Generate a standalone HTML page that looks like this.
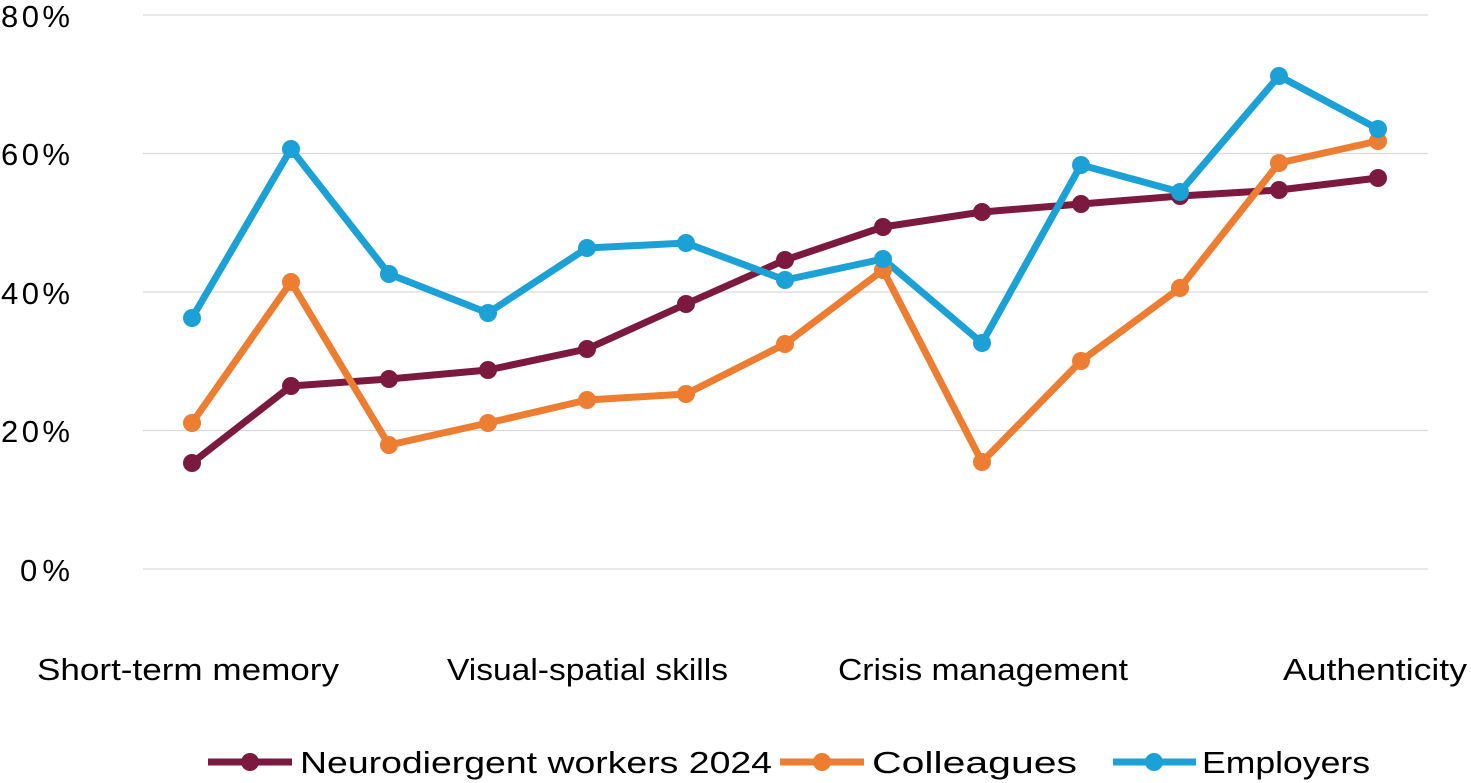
<!DOCTYPE html>
<html><head><meta charset="utf-8"><style>
html,body{margin:0;padding:0;background:#fff;}
svg{display:block;font-family:"Liberation Sans",sans-serif;}
</style></head><body>
<svg width="1471" height="783" viewBox="0 0 1471 783" xmlns="http://www.w3.org/2000/svg">
<g stroke="#d9d9d9" stroke-width="1.3">
<line x1="143" y1="15" x2="1428" y2="15"/>
<line x1="143" y1="153.5" x2="1428" y2="153.5"/>
<line x1="143" y1="292" x2="1428" y2="292"/>
<line x1="143" y1="430.5" x2="1428" y2="430.5"/>
<line x1="143" y1="569" x2="1428" y2="569"/>
</g>
<g font-size="31" fill="#000" lengthAdjust="spacingAndGlyphs">
<text x="1" y="27" textLength="69">80%</text>
<text x="1" y="165" textLength="69">60%</text>
<text x="1" y="304" textLength="69">40%</text>
<text x="1" y="442" textLength="69">20%</text>
<text x="20" y="581" textLength="50">0%</text>
</g>
<g font-size="31" fill="#000">
<text x="37" y="680" textLength="302" lengthAdjust="spacingAndGlyphs">Short-term memory</text>
<text x="447" y="680" textLength="281" lengthAdjust="spacingAndGlyphs">Visual-spatial skills</text>
<text x="838" y="680" textLength="290" lengthAdjust="spacingAndGlyphs">Crisis management</text>
<text x="1283" y="680" textLength="184" lengthAdjust="spacingAndGlyphs">Authenticity</text>
</g>
<g fill="none" stroke-width="7" stroke-linejoin="round">
<polyline stroke="#7b1a3e" points="192,463 291,386 389,379 488,370 587,349 686,304 785,260 883,227 982,212 1081,204 1180,196 1279,190 1378,178"/>
<polyline stroke="#ed7d31" points="192,423 291,282 389,445 488,423 587,400 686,394 785,344 883,270 982,462 1081,361 1180,288 1279,163 1378,141"/>
<polyline stroke="#1ba1d6" points="192,318 291,149 389,274 488,313 587,248 686,243 785,280 883,259 982,343 1081,165 1180,192 1279,76 1378,129"/>
</g>
<g fill="#7b1a3e">
<circle cx="192" cy="463" r="9"/><circle cx="291" cy="386" r="9"/><circle cx="389" cy="379" r="9"/><circle cx="488" cy="370" r="9"/><circle cx="587" cy="349" r="9"/><circle cx="686" cy="304" r="9"/><circle cx="785" cy="260" r="9"/><circle cx="883" cy="227" r="9"/><circle cx="982" cy="212" r="9"/><circle cx="1081" cy="204" r="9"/><circle cx="1180" cy="196" r="9"/><circle cx="1279" cy="190" r="9"/><circle cx="1378" cy="178" r="9"/>
</g>
<g fill="#ed7d31">
<circle cx="192" cy="423" r="9"/><circle cx="291" cy="282" r="9"/><circle cx="389" cy="445" r="9"/><circle cx="488" cy="423" r="9"/><circle cx="587" cy="400" r="9"/><circle cx="686" cy="394" r="9"/><circle cx="785" cy="344" r="9"/><circle cx="883" cy="270" r="9"/><circle cx="982" cy="462" r="9"/><circle cx="1081" cy="361" r="9"/><circle cx="1180" cy="288" r="9"/><circle cx="1279" cy="163" r="9"/><circle cx="1378" cy="141" r="9"/>
</g>
<g fill="#1ba1d6">
<circle cx="192" cy="318" r="9"/><circle cx="291" cy="149" r="9"/><circle cx="389" cy="274" r="9"/><circle cx="488" cy="313" r="9"/><circle cx="587" cy="248" r="9"/><circle cx="686" cy="243" r="9"/><circle cx="785" cy="280" r="9"/><circle cx="883" cy="259" r="9"/><circle cx="982" cy="343" r="9"/><circle cx="1081" cy="165" r="9"/><circle cx="1180" cy="192" r="9"/><circle cx="1279" cy="76" r="9"/><circle cx="1378" cy="129" r="9"/>
</g>
<g stroke-width="7">
<line x1="208" y1="762" x2="292" y2="762" stroke="#7b1a3e"/>
<line x1="780" y1="762" x2="864" y2="762" stroke="#ed7d31"/>
<line x1="1113" y1="762" x2="1196" y2="762" stroke="#1ba1d6"/>
</g>
<circle cx="250" cy="762" r="9" fill="#7b1a3e"/>
<circle cx="822" cy="762" r="9" fill="#ed7d31"/>
<circle cx="1154" cy="762" r="9" fill="#1ba1d6"/>
<g font-size="31" fill="#000">
<text x="300" y="773" textLength="472" lengthAdjust="spacingAndGlyphs">Neurodiergent workers 2024</text>
<text x="872" y="773" textLength="205" lengthAdjust="spacingAndGlyphs">Colleagues</text>
<text x="1202" y="773" textLength="168" lengthAdjust="spacingAndGlyphs">Employers</text>
</g>
</svg>
</body></html>
